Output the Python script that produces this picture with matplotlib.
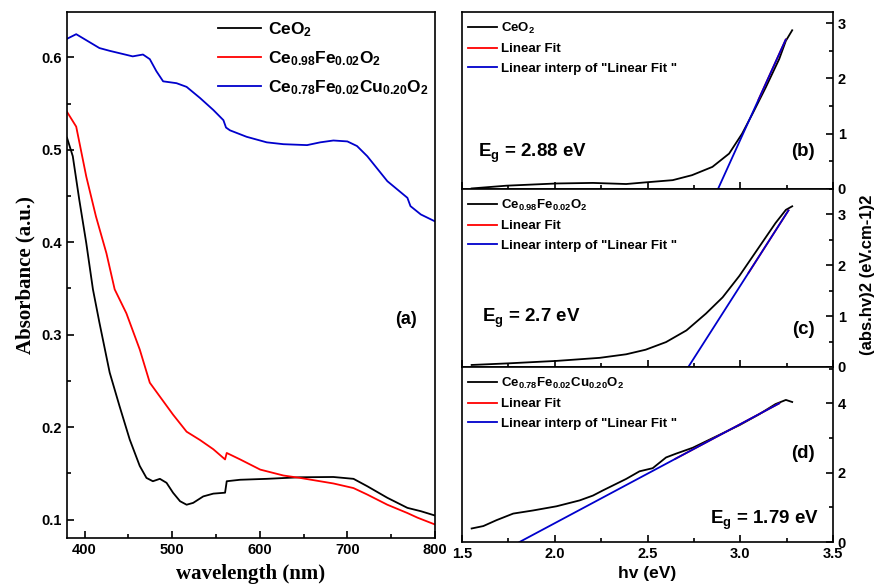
import matplotlib
matplotlib.use("Agg")
import matplotlib.pyplot as plt
from matplotlib.ticker import MultipleLocator

# ---- (a) absorbance spectra ----
wl_ceo2 = [380, 386.6, 394, 402, 409.6, 417, 428.7, 440, 451.6, 463, 470.7, 478, 486,
           493.6, 501, 509, 516.5, 524, 535.5, 547, 560.4, 562.3, 577.6, 608, 646, 684,
           707, 722.7, 745.6, 768.5, 783.8, 800]
abs_ceo2 = [0.513, 0.493, 0.446, 0.399, 0.349, 0.313, 0.259, 0.2225, 0.1865, 0.158, 0.145,
            0.1414, 0.144, 0.1397, 0.129, 0.1198, 0.116, 0.118, 0.125, 0.128, 0.129, 0.1414,
            0.143, 0.144, 0.1457, 0.146, 0.144, 0.136, 0.1235, 0.1126, 0.109, 0.1043]

wl_fe = [380, 390.5, 402, 413, 425, 434.4, 447.8, 463, 474.5, 486, 501, 516.5, 531.8,
         547, 560.4, 562.3, 577.6, 600.5, 627, 646, 684, 707, 722.7, 745.6, 768.5, 780, 800]
abs_fe = [0.541, 0.525, 0.471, 0.428, 0.388, 0.349, 0.323, 0.284, 0.248, 0.233, 0.2135,
          0.195, 0.186, 0.176, 0.165, 0.172, 0.165, 0.154, 0.1476, 0.145, 0.139, 0.134,
          0.127, 0.116, 0.107, 0.102, 0.0946]

wl_cu = [380, 390.5, 417, 428.7, 455, 466.7, 474.5, 482, 489.7, 505, 516.5, 531.8, 547,
         558.5, 561.5, 566, 585, 608, 627, 654, 669, 684, 700, 711, 722.7, 745.6, 768.5,
         772, 783.8, 800]
abs_cu = [0.620, 0.625, 0.610, 0.607, 0.601, 0.603, 0.598, 0.585, 0.574, 0.572, 0.568,
          0.556, 0.543, 0.532, 0.524, 0.521, 0.514, 0.508, 0.506, 0.505, 0.508, 0.510,
          0.509, 0.504, 0.493, 0.466, 0.448, 0.439, 0.430, 0.4225]

labels_a = ["CeO$_2$", "Ce$_{0.98}$Fe$_{0.02}$O$_2$", "Ce$_{0.78}$Fe$_{0.02}$Cu$_{0.20}$O$_2$"]

# ---- (b) CeO2 Tauc plot ----
hv_b = [1.552, 1.74, 2.01, 2.206, 2.385, 2.49, 2.636, 2.74, 2.85, 2.94, 3.01, 3.066,
        3.138, 3.21, 3.246, 3.28]
tauc_b = [0.01, 0.06, 0.10, 0.11, 0.09, 0.12, 0.16, 0.25, 0.40, 0.64, 1.0, 1.36, 1.84,
          2.35, 2.68, 2.87]
fit_b_x = [2.88, 3.245]
fit_b_y = [0.0, 2.70]

# ---- (c) Ce0.98Fe0.02O2 ----
hv_c = [1.552, 1.74, 2.01, 2.242, 2.385, 2.49, 2.60, 2.71, 2.815, 2.905, 2.995, 3.10,
        3.19, 3.246, 3.28]
tauc_c = [0.04, 0.07, 0.12, 0.18, 0.25, 0.34, 0.49, 0.72, 1.05, 1.37, 1.79, 2.35, 2.83,
          3.09, 3.16]
fit_c_x = [2.72, 3.26]
fit_c_y = [0.0, 3.08]

# ---- (d) Ce0.78Fe0.02Cu0.20O2 ----
hv_d = [1.552, 1.615, 1.686, 1.776, 1.883, 2.009, 2.134, 2.206, 2.26, 2.385, 2.457,
        2.528, 2.60, 2.654, 2.744, 2.887, 2.995, 3.10, 3.19, 3.246, 3.28]
tauc_d = [0.39, 0.46, 0.63, 0.82, 0.91, 1.03, 1.20, 1.34, 1.49, 1.82, 2.04, 2.13, 2.44,
          2.55, 2.72, 3.09, 3.37, 3.68, 3.98, 4.10, 4.04]
fit_d_x = [1.81, 3.21]
fit_d_y = [0.0, 4.0]

plt.rcParams["font.family"] = "Liberation Sans"
plt.rcParams["font.weight"] = "bold"
plt.rcParams["mathtext.fontset"] = "custom"
plt.rcParams["mathtext.rm"] = "Liberation Sans:bold"
plt.rcParams["mathtext.bf"] = "Liberation Sans:bold"
plt.rcParams["mathtext.default"] = "bf"
plt.rcParams["axes.linewidth"] = 1.2

W, H = 878, 585
fig = plt.figure(figsize=(W / 100, H / 100), dpi=100)


def px_axes(x0, y0, x1, y1):
    return fig.add_axes([x0 / W, 1 - y1 / H, (x1 - x0) / W, (y1 - y0) / H])


# left panel
ax = px_axes(67, 12, 435, 538)
ax.plot(wl_ceo2, abs_ceo2, color="black", lw=1.3, label=labels_a[0])
ax.plot(wl_fe, abs_fe, color="red", lw=1.3, label=labels_a[1])
ax.plot(wl_cu, abs_cu, color="#0000cc", lw=1.3, label=labels_a[2])
ax.set_xlim(380, 800)
ax.set_ylim(0.08, 0.649)
ax.xaxis.set_major_locator(MultipleLocator(100))
ax.xaxis.set_minor_locator(MultipleLocator(50))
ax.yaxis.set_major_locator(MultipleLocator(0.1))
ax.yaxis.set_minor_locator(MultipleLocator(0.05))
ax.tick_params(which="both", direction="in", labelsize=10.5)
ax.tick_params(which="major", length=5, width=1.2)
ax.tick_params(which="minor", length=3, width=1.2)
ax.set_xlabel("wavelength (nm)", family="Liberation Serif", fontsize=15,
              fontweight="bold", labelpad=5)
ax.set_ylabel("Absorbance (a.u.)", family="Liberation Serif", fontsize=15,
              fontweight="bold", labelpad=4)
ax.legend(loc="upper left", bbox_to_anchor=(0.41, 0.985), frameon=False, fontsize=12.5,
          handlelength=2.5, handletextpad=0.4, labelspacing=0.6, borderpad=0,
          borderaxespad=0)
ax.text(0.95, 0.415, "(a)", transform=ax.transAxes, ha="right", va="center", fontsize=13)

# right panels
panels = [
    (12, 189, hv_b, tauc_b, fit_b_x, fit_b_y, "CeO$_2$", (0, 3.2), 1, 0.5,
     "E$_g$ = 2.88 eV", (478, 153), "(b)", 152),
    (189, 367, hv_c, tauc_c, fit_c_x, fit_c_y, "Ce$_{0.98}$Fe$_{0.02}$O$_2$", (0, 3.5), 1, 0.5,
     "E$_g$ = 2.7 eV", (482, 318), "(c)", 330),
    (367, 542, hv_d, tauc_d, fit_d_x, fit_d_y, "Ce$_{0.78}$Fe$_{0.02}$Cu$_{0.20}$O$_2$", (0, 5.05),
     2, 1, "E$_g$ = 1.79 eV", (710, 520), "(d)", 453),
]

for i, (y0, y1, hv, tauc, fx, fy, lab, ylim, maj, mnr, eg, egpos, tag, tagy) in enumerate(panels):
    a = px_axes(462, y0, 833, y1)
    a.plot(hv, tauc, color="black", lw=1.3, label=lab)
    # fitted segment (hidden under the extrapolated line)
    a.plot([fx[0] + 0.6 * (fx[1] - fx[0]), fx[1]], [fy[0] + 0.6 * (fy[1] - fy[0]), fy[1]],
           color="red", lw=1.3, label="Linear Fit")
    a.plot(fx, fy, color="#0000cc", lw=1.3, label='Linear interp of "Linear Fit "')
    a.set_xlim(1.5, 3.5)
    a.set_ylim(*ylim)
    a.xaxis.set_major_locator(MultipleLocator(0.5))
    a.xaxis.set_minor_locator(MultipleLocator(0.25))
    a.yaxis.set_major_locator(MultipleLocator(maj))
    a.yaxis.set_minor_locator(MultipleLocator(mnr))
    a.yaxis.tick_right()
    a.tick_params(which="both", direction="in", labelsize=10.5)
    a.tick_params(which="major", length=5, width=1.2)
    a.tick_params(which="minor", length=3, width=1.2)
    if i < 2:
        a.tick_params(axis="x", labelbottom=False)
    else:
        a.set_xlabel("hv (eV)", fontsize=12.5, fontweight="bold", labelpad=4)
    a.legend(loc="upper left", bbox_to_anchor=(0.016, 0.95), frameon=False, fontsize=9.5,
             handlelength=2.2, handletextpad=0.3, labelspacing=0.55, borderpad=0,
             borderaxespad=0)
    x_eg = (egpos[0] - 462) / 371
    y_eg = (y1 - egpos[1]) / (y1 - y0)
    a.text(x_eg, y_eg, eg, transform=a.transAxes, ha="left", va="center", fontsize=13.5)
    a.text(0.95, (y1 - tagy) / (y1 - y0), tag, transform=a.transAxes, ha="right",
           va="center", fontsize=13.5)

fig.text(868 / W, 1 - 275 / H, "(abs.hv)2 (eV.cm-1)2", rotation=90, ha="center",
         va="center", fontsize=12, fontweight="bold")

fig.savefig("out.png", dpi=100)
